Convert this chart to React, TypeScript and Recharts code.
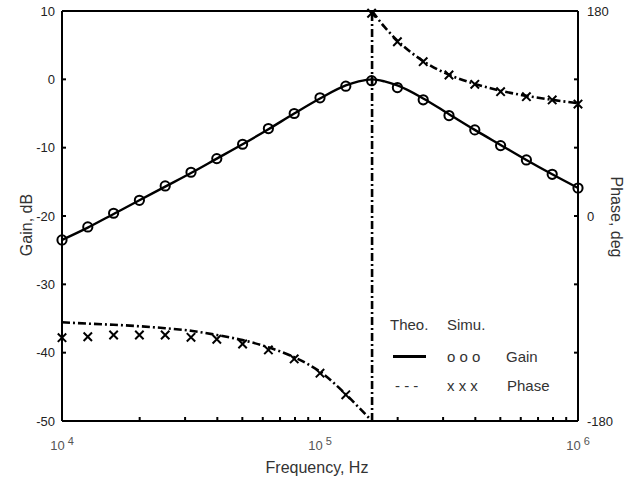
import { ComposedChart, Line, XAxis, YAxis, Legend } from 'recharts'

// simulated points, 10 per decade
const freqSim = [10000, 12589, 15849, 19953, 25119, 31623, 39811, 50119, 63096, 79433, 100000, 125893, 158489, 199526, 251189, 316228, 398107, 501187, 630957, 794328, 1000000]
const gainSim = [-23.5, -21.6, -19.6, -17.7, -15.6, -13.6, -11.6, -9.5, -7.2, -5.0, -2.7, -1.0, -0.2, -1.2, -3.0, -5.3, -7.4, -9.7, -11.8, -13.9, -15.9]
const phaseSim = [-106.8, -106, -104.5, -104.5, -104.5, -106.5, -108.2, -112.4, -117.6, -125.5, -138, -157, 178, 153, 135.5, 123.8, 115.6, 109.2, 104.8, 101.9, 98.3]

// theoretical curves
const freqTheoGain = [10000, 12589, 15849, 19953, 25119, 31623, 39811, 50119, 63096, 79433, 100000, 125893, 141254, 159155, 177828, 199526, 251189, 316228, 398107, 501187, 630957, 794328, 1000000]
const gainTheo = [-23.5, -21.7, -19.7, -17.7, -15.7, -13.7, -11.6, -9.5, -7.3, -5.0, -2.8, -0.9, -0.3, 0, -0.3, -0.9, -2.8, -5.1, -7.4, -9.6, -11.8, -13.9, -15.9]
const freqTheoPhaseLow = [10000, 12589, 15849, 19953, 25119, 31623, 39811, 50119, 63096, 79433, 100000, 125893, 141254, 159155]
const phaseTheoLow = [-93.3, -94.5, -95.5, -96.8, -98.5, -100.8, -104.5, -109, -115.3, -124, -136.7, -156.5, -168, -180]
const freqTheoPhaseHigh = [159155, 177828, 199526, 251189, 316228, 398107, 501187, 630957, 794328, 1000000]
const phaseTheoHigh = [180, 166, 154, 136, 124, 116, 110, 105.5, 102, 99]
const freqJump = [159155, 159155]
const phaseJump = [-180, 180]

const freqTicks = [10000, 20000, 30000, 40000, 50000, 60000, 70000, 80000, 90000, 100000, 200000, 300000, 400000, 500000, 600000, 700000, 800000, 900000, 1000000]
const gainTicks = [-50, -40, -30, -20, -10, 0, 10]
const phaseTicks = [-180, -120, -60, 0, 60, 120, 180]
const phaseLabels = [-180, 0, 180]

const zip = (fs: number[], vs: number[], key: string) => fs.map((f, i) => ({ f, [key]: vs[i] }))

const FONT = '"Liberation Sans", Arial, sans-serif'
const DASHDOT = '8 3 2 3'

const Circle = (p: any) => (
  <circle key={`o${p.index}`} cx={p.cx} cy={p.cy} r={4.6} fill="none" stroke="#000" strokeWidth={2} />
)

const Cross = (p: any) => {
  const s = 4.2
  return (
    <path key={`x${p.index}`} d={`M${p.cx - s},${p.cy - s}L${p.cx + s},${p.cy + s}M${p.cx - s},${p.cy + s}L${p.cx + s},${p.cy - s}`}
      stroke="#000" strokeWidth={2} fill="none" />
  )
}

const XTick = ({ x, y, payload }: any) => {
  const e = Math.log10(payload.value)
  if (Math.abs(e - Math.round(e)) > 1e-9) return <g />
  return (
    <text x={x} y={y} dy="0.71em" textAnchor="middle" fill="#555" fontSize={13} fontFamily={FONT}>
      10<tspan dx={3} dy={-5} fontSize={11}>{Math.round(e)}</tspan>
    </text>
  )
}

const txt = (left: number, top: number, s: string) => (
  <span style={{ position: 'absolute', left, top, lineHeight: '17px', whiteSpace: 'pre' }}>{s}</span>
)

const LegendBox = () => (
  <div style={{ position: 'relative', width: 180, height: 80, fontSize: 15, color: '#333', fontFamily: FONT }}>
    {txt(5, 0, 'Theo.')}
    {txt(62, 0, 'Simu.')}
    <div style={{ position: 'absolute', left: 8, top: 39, width: 33, height: 3, background: '#000' }} />
    {txt(62, 32, 'o o o')}
    {txt(121, 32, 'Gain')}
    {txt(10, 61, '- - -')}
    {txt(62, 61, 'x x x')}
    {txt(122, 61, 'Phase')}
  </div>
)

export default function App() {
  const axisLine = { stroke: '#000', strokeWidth: 2 }
  const tickLine = { stroke: '#000', strokeWidth: 2 }
  return (
    <div style={{ fontFamily: FONT }}>
      <style>{'body{margin:0}'}</style>
      <ComposedChart width={638} height={480} margin={{ top: 10, right: 10, bottom: 0, left: 12 }}>
        <XAxis xAxisId="b" dataKey="f" type="number" scale="log" domain={[10000, 1000000]} ticks={freqTicks}
          interval={0} tick={<XTick />} tickSize={-4} tickMargin={24} height={59}
          axisLine={axisLine} tickLine={tickLine}
          label={{ value: 'Frequency, Hz', position: 'center', dy: 17, dx: -3, fill: '#333', fontSize: 16 }} />
        <XAxis xAxisId="t" orientation="top" dataKey="f" type="number" scale="log" domain={[10000, 1000000]} ticks={freqTicks}
          interval={0} tickFormatter={() => ''} tickSize={-4} height={1} axisLine={axisLine} tickLine={tickLine} />
        <YAxis yAxisId="gain" domain={[-50, 10]} ticks={gainTicks} interval={0} width={50}
          tickSize={-4} tickMargin={11} axisLine={axisLine} tickLine={tickLine}
          tick={{ fill: '#222', fontSize: 13 }}
          label={{ value: 'Gain, dB', angle: -90, position: 'center', dx: -11, dy: 9, fill: '#333', fontSize: 16 }} />
        <YAxis yAxisId="phase" orientation="right" domain={[-180, 180]} ticks={phaseTicks} interval={0} width={50}
          tickSize={-4} tickMargin={13} axisLine={axisLine} tickLine={tickLine}
          tick={{ fill: '#222', fontSize: 13 }}
          tickFormatter={(v: number) => (phaseLabels.includes(v) ? String(v) : '')}
          label={{ value: 'Phase, deg', angle: 90, position: 'center', dx: 14, dy: 1, fill: '#333', fontSize: 16 }} />

        <Line xAxisId="b" yAxisId="gain" data={zip(freqTheoGain, gainTheo, 'g')} dataKey="g" type="monotone"
          stroke="#000" strokeWidth={2.4} dot={false} activeDot={false} isAnimationActive={false} legendType="none" />
        <Line xAxisId="b" yAxisId="gain" data={zip(freqSim, gainSim, 'g')} dataKey="g"
          stroke="none" dot={Circle} activeDot={false} isAnimationActive={false} legendType="none" />

        <Line xAxisId="b" yAxisId="phase" data={zip(freqTheoPhaseLow, phaseTheoLow, 'p')} dataKey="p" type="monotone"
          stroke="#000" strokeWidth={2.6} strokeDasharray={DASHDOT} dot={false} activeDot={false} isAnimationActive={false} legendType="none" />
        <Line xAxisId="b" yAxisId="phase" data={zip(freqJump, phaseJump, 'p')} dataKey="p" type="linear"
          stroke="#000" strokeWidth={2.6} strokeDasharray={DASHDOT} dot={false} activeDot={false} isAnimationActive={false} legendType="none" />
        <Line xAxisId="b" yAxisId="phase" data={zip(freqTheoPhaseHigh, phaseTheoHigh, 'p')} dataKey="p" type="monotone"
          stroke="#000" strokeWidth={2.6} strokeDasharray={DASHDOT} dot={false} activeDot={false} isAnimationActive={false} legendType="none" />
        <Line xAxisId="b" yAxisId="phase" data={zip(freqSim, phaseSim, 'p')} dataKey="p"
          stroke="none" dot={Cross} activeDot={false} isAnimationActive={false} legendType="none" />

        <Legend layout="vertical" align="center" verticalAlign="middle" content={<LegendBox />}
          wrapperStyle={{ left: 385, top: 316, width: 180, height: 80 }} />
      </ComposedChart>
    </div>
  )
}
